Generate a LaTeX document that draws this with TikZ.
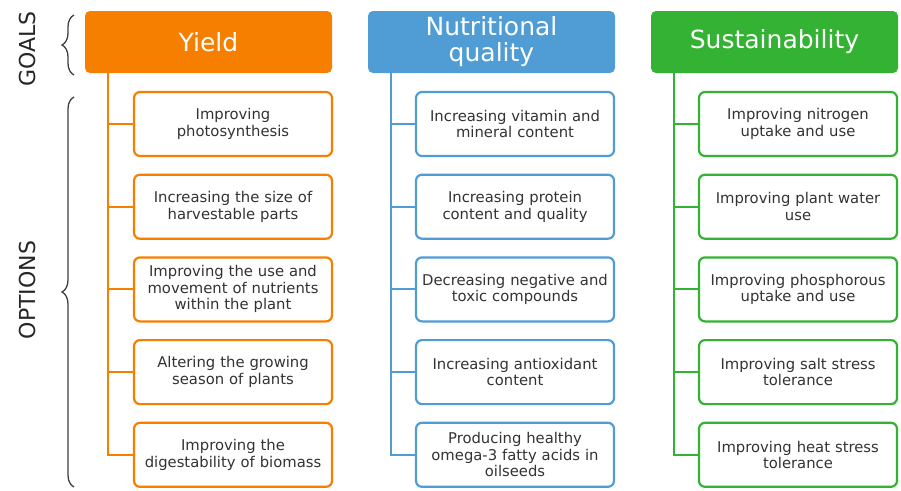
\documentclass[tikz,border=0pt]{standalone}
\usepackage{fontspec}
\setmainfont{DejaVu Sans}
\usepackage{tikz}
\usetikzlibrary{positioning,decorations.pathreplacing}
\definecolor{yorange}{RGB}{247,127,0}
\definecolor{nblue}{RGB}{80,157,214}
\definecolor{sgreen}{RGB}{52,178,52}
\tikzset{
    goal/.style={
    rectangle,rounded corners=5pt,fill=#1,text=white,inner sep=1pt,minimum width=247pt,minimum height=62pt,text width=240pt,align=center,font=\fontsize{25}{26}\selectfont
    },
    option/.style={
    rectangle,rounded corners=6pt,draw=#1,line width=2.2pt,fill=white,minimum width=198pt,minimum height=64pt,text width=188pt,align=center,text=black!80,font=\fontsize{14.8}{16.5}\selectfont
    },
  trunk/.style={draw=#1, line width=2pt},
  bracket/.style={draw=black!75, line width=1.3pt, decorate, decoration={brace,amplitude=12pt}},
  side/.style={rotate=90, text=black!85, font=\fontsize{22}{26}\selectfont}
}
\begin{document}
\begin{tikzpicture}[x=1pt,y=-1pt]
    \useasboundingbox (0,0) rectangle (901,490);

    % goals
    \node[goal=yorange] (yield) at (208.5,42) {Yield};
    \node[goal=nblue] (nutr) at (491.5,42) {Nutritional\\ quality};
    \node[goal=sgreen] (sust) at (774.5,42) {Sustainability};

    % yield options
    \node[option=yorange] (y1) at (233,124) {Improving\\ photosynthesis};
    \node[option=yorange,below=16.5pt of y1] (y2) {Increasing the size of\\ harvestable parts};
    \node[option=yorange,below=16.5pt of y2] (y3) {Improving the use and\\ movement of nutrients\\ within the plant};
    \node[option=yorange,below=16.5pt of y3] (y4) {Altering the growing\\ season of plants};
    \node[option=yorange,below=16.5pt of y4] (y5) {Improving the\\ digestability of biomass};

    % nutritional options
    \node[option=nblue] (n1) at (515,124) {Increasing vitamin and\\ mineral content};
    \node[option=nblue,below=16.5pt of n1] (n2) {Increasing protein\\ content and quality};
    \node[option=nblue,below=16.5pt of n2] (n3) {Decreasing negative and\\ toxic compounds};
    \node[option=nblue,below=16.5pt of n3] (n4) {Increasing antioxidant\\ content};
    \node[option=nblue,below=16.5pt of n4] (n5) {Producing healthy\\ omega-3 fatty acids in\\ oilseeds};

    % sustainability options
    \node[option=sgreen] (s1) at (798,124) {Improving nitrogen\\ uptake and use};
    \node[option=sgreen,below=16.5pt of s1] (s2) {Improving plant water\\ use};
    \node[option=sgreen,below=16.5pt of s2] (s3) {Improving phosphorous\\ uptake and use};
    \node[option=sgreen,below=16.5pt of s3] (s4) {Improving salt stress\\ tolerance};
    \node[option=sgreen,below=16.5pt of s4] (s5) {Improving heat stress\\ tolerance};

    \coordinate[right=23pt of yield.south west] (ytop);
    \coordinate[right=23pt of nutr.south west] (ntop);
    \coordinate[right=23pt of sust.south west] (stop);

    \path[trunk=yorange] (ytop) |- (y5.west);
    \path[trunk=nblue] (ntop) |- (n5.west);
    \path[trunk=sgreen] (stop) |- (s5.west);
    \foreach \i in {1,...,4} {
      \path[trunk=yorange] (ytop |- y\i.west) -- (y\i.west);
      \path[trunk=nblue] (ntop |- n\i.west) -- (n\i.west);
      \path[trunk=sgreen] (stop |- s\i.west) -- (s\i.west);
    }

    % side labels
    \draw[bracket] (74,75) -- (74,15);
    \draw[bracket] (74,487) -- (74,97);
    \node[side] (goals) at (27,49) {GOALS};
    \node[side] (opts) at (27,290) {OPTIONS};
\end{tikzpicture}
\end{document}
